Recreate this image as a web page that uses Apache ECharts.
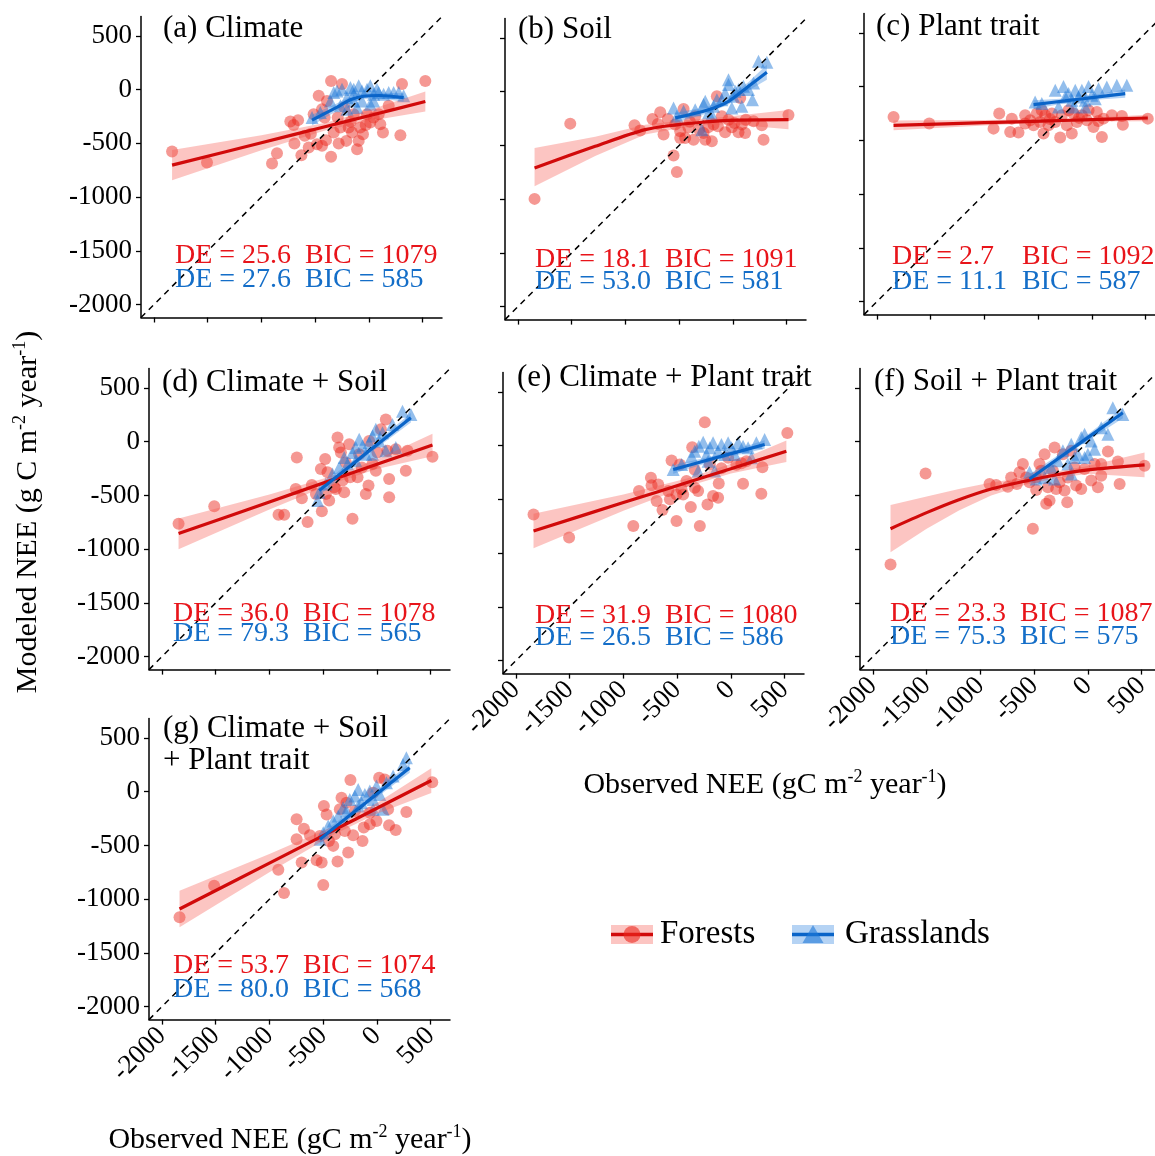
<!DOCTYPE html>
<html>
<head>
<meta charset="utf-8">
<script src="https://cdn.jsdelivr.net/npm/echarts@6/dist/echarts.min.js"></script>
<style>
  html, body { margin: 0; padding: 0; background: #fff; }
  #chart { width: 1155px; height: 1156px; }
</style>
</head>
<body>
<div id="chart"></div>
<script>
// shared axis range (observed and modeled), and the ticks shown
const axisMin = -2120;
const axisMax = 680;
const tickValues = [-2000, -1500, -1000, -500, 0, 500];

const panelTitles = ['(a) Climate', '(b) Soil', '(c) Plant trait', '(d) Climate + Soil',
  '(e) Climate + Plant trait', '(f) Soil + Plant trait', '(g) Climate + Soil\n+ Plant trait'];
const forestDE = ['25.6', '18.1', '2.7', '36.0', '31.9', '23.3', '53.7'];
const forestBIC = ['1079', '1091', '1092', '1078', '1080', '1087', '1074'];
const grassDE = ['27.6', '53.0', '11.1', '79.3', '26.5', '75.3', '80.0'];
const grassBIC = ['585', '581', '587', '565', '586', '575', '568'];

// points: [observed, modeled]
// fits: [observed, fit, lower, upper]
const forestA = [[-1831,-576],[-1506,-678],[-901,-687],[-855,-591],[-731,-297],[-659,-284],[-693,-501],[-597,-430],[-628,-610],[-560,-539],[-514,-229],[-436,-182],[-483,-508],[-436,-523],[-399,-470],[-352,81],[-352,-625],[-327,-399],[-250,51],[-290,-260],[-281,-501],[-210,-477],[-188,-353],[-157,-399],[-110,-554],[-95,-477],[-80,-353],[-55,-415],[-17,-229],[13,-306],[44,-260],[91,-229],[106,-322],[131,-399],[184,-151],[308,51],[293,-424],[525,81],[-467,-58],[-390,-105],[-229,-167],[-142,-229],[-412,-260],[-265,-353],[-700,-330],[-540,-410],[-170,-300],[-30,-330]];
const grassA = [[-529,-260],[-452,-213],[-327,-27],[-296,-12],[-250,4],[-203,-74],[-172,20],[-141,-43],[-95,35],[-64,-12],[-17,4],[13,35],[44,-43],[91,-27],[137,-43],[184,-27],[230,-27],[277,-27],[323,-58],[-110,-167],[-64,-105],[13,-136],[-265,-151],[-203,-182],[-141,-105],[44,-105],[-358,-105],[75,4],[-141,4]];
const forestFitA = [[-1831,-703,-843,-563],[-1000,-494,-564,-424],[-400,-343,-378,-308],[0,-243,-293,-193],[525,-111,-204,-18]];
const grassFitA = [[-529,-284,-334,-234],[-300,-165,-200,-130],[-172,-95,-125,-65],[-50,-62,-87,-37],[100,-55,-80,-30],[323,-74,-114,-34]];

const forestB = [[-1845,-997],[-1513,-297],[-915,-312],[-862,-362],[-748,-253],[-698,-300],[-676,-191],[-645,-399],[-605,-253],[-552,-594],[-521,-746],[-490,-368],[-490,-430],[-459,-160],[-444,-430],[-413,-331],[-366,-446],[-351,-229],[-314,-353],[-273,-384],[-257,-446],[-196,-461],[-180,-306],[-149,-43],[-140,-322],[-103,-229],[-72,-377],[-41,-260],[15,-291],[52,-377],[83,-306],[114,-384],[120,-260],[192,-275],[269,-312],[285,-446],[517,-216],[68,-58],[-537,-306],[-400,-280],[-230,-330],[-10,-330]];
const grassB = [[-552,-151],[-521,-229],[-459,-182],[-351,-167],[-273,-120],[-257,-89],[-227,-198],[-180,-136],[-149,-74],[-103,-74],[-72,-12],[-41,112],[-10,-151],[5,-43],[21,4],[52,20],[83,-136],[98,51],[145,20],[182,-74],[192,81],[238,283],[316,274],[-41,66],[-196,-213],[-289,-353]];
const forestFitB = [[-1845,-709,-880,-523],[-1281,-508,-598,-418],[-816,-353,-398,-308],[-506,-306,-341,-271],[-289,-284,-314,-254],[-41,-266,-301,-231],[517,-260,-350,-170]];
const grassFitB = [[-537,-244,-289,-199],[-227,-167,-197,-137],[-41,-89,-119,-59],[145,51,11,91],[316,181,111,251]];

const forestC = [[-1845,-281],[-1513,-343],[-915,-390],[-862,-250],[-760,-421],[-683,-427],[-745,-297],[-621,-266],[-574,-312],[-543,-359],[-512,-250],[-481,-328],[-450,-436],[-434,-266],[-403,-359],[-372,-250],[-341,-328],[-295,-473],[-279,-266],[-233,-359],[-187,-436],[-171,-250],[-140,-328],[-93,-266],[-47,-312],[15,-374],[46,-235],[93,-467],[108,-297],[186,-266],[279,-272],[288,-353],[520,-297],[-621,-343],[-466,-219],[-217,-219],[-31,-219],[-390,-300],[-120,-290],[60,-320]];
const grassC = [[-528,-142],[-466,-157],[-341,-33],[-310,-188],[-264,2],[-217,-64],[-187,-126],[-155,-33],[-124,-95],[-93,-33],[-62,-126],[-31,2],[0,-80],[31,-111],[62,-18],[139,-2],[232,13],[325,13],[-171,-188],[-62,-188],[-248,-95]];
const forestFitC = [[-1845,-359,-404,-314],[-1000,-335,-360,-310],[-400,-318,-333,-303],[0,-306,-324,-288],[520,-291,-321,-261]];
const grassFitC = [[-543,-167,-207,-127],[-250,-132,-154,-110],[0,-101,-123,-79],[310,-64,-102,-26]];

const forestD = [[-1845,-763],[-1513,-600],[-915,-680],[-862,-680],[-745,-147],[-755,-439],[-698,-526],[-645,-747],[-605,-402],[-567,-486],[-521,-255],[-512,-646],[-481,-162],[-475,-486],[-459,-285],[-444,-547],[-397,-424],[-382,-439],[-366,38],[-335,-101],[-320,-362],[-304,-470],[-258,-24],[-249,-331],[-227,-717],[-180,-331],[-165,-116],[-140,-239],[-103,-486],[-78,-408],[-72,7],[-41,-208],[-10,-270],[5,-101],[37,115],[83,207],[98,-85],[114,-347],[114,-516],[176,-70],[269,-270],[285,-85],[517,-141],[-351,-55],[-289,-193]];
const grassD = [[-552,-547],[-537,-470],[-475,-393],[-413,-301],[-351,-239],[-304,-147],[-273,-208],[-227,-101],[-196,-54],[-165,23],[-134,-39],[-103,-116],[-72,-8],[-41,53],[-10,115],[21,7],[52,84],[83,-85],[145,161],[176,-54],[238,284],[316,254],[-41,-116],[-196,-178]];
const forestFitD = [[-1845,-855,-1000,-715],[-1000,-560,-630,-490],[-400,-350,-385,-315],[0,-210,-255,-165],[517,-30,-135,75]];
const grassFitD = [[-537,-455,-500,-410],[-100,-108,-133,-83],[316,223,178,268]];

const forestE = [[-1836,-639],[-1505,-855],[-908,-747],[-855,-422],[-744,-298],[-738,-369],[-676,-360],[-691,-515],[-636,-598],[-583,-422],[-567,-499],[-552,-137],[-506,-700],[-506,-453],[-475,-175],[-459,-406],[-444,-453],[-413,-329],[-373,-570],[-360,-14],[-336,-391],[-305,-422],[-289,-747],[-243,218],[-218,-546],[-196,-175],[-166,-468],[-119,-484],[-113,-351],[-88,-209],[-26,-113],[51,-178],[113,-354],[144,-144],[283,-447],[293,-200],[525,119],[98,-163],[-336,-224]];
const grassE = [[-537,-221],[-459,-175],[-366,-97],[-336,-51],[-298,-4],[-258,33],[-227,-82],[-196,-20],[-166,27],[-150,-236],[-119,-51],[-88,11],[-57,-82],[-26,27],[5,-20],[36,-82],[67,27],[113,-4],[160,-20],[191,-113],[237,27],[314,58],[-305,-236],[-212,-144]];
const forestFitE = [[-1836,-793,-953,-633],[-1000,-529,-604,-454],[-400,-340,-378,-302],[0,-214,-259,-169],[516,-51,-151,49]];
const grassFitE = [[-537,-221,-261,-181],[-100,-102,-124,-80],[314,11,-29,51]];

const forestF = [[-1836,-1142],[-1510,-295],[-915,-393],[-853,-402],[-745,-418],[-714,-332],[-661,-393],[-636,-285],[-605,-208],[-574,-332],[-543,-378],[-512,-809],[-481,-449],[-450,-208],[-434,-270],[-403,-116],[-388,-578],[-372,-424],[-357,-547],[-326,-270],[-310,-54],[-295,-439],[-264,-378],[-233,-116],[-217,-455],[-192,-563],[-186,-332],[-155,-85],[-124,-239],[-109,-408],[-62,-439],[-31,-255],[31,-362],[62,-208],[93,-424],[124,-316],[186,-91],[279,-184],[295,-393],[527,-224],[124,-208],[-481,-332]];
const grassF = [[-543,-285],[-481,-347],[-403,-332],[-341,-239],[-310,-347],[-279,-178],[-233,-85],[-186,-208],[-155,-24],[-124,-147],[-93,-116],[-62,38],[-31,69],[0,-116],[31,7],[62,-70],[124,130],[186,69],[232,315],[325,254],[-155,-301],[-31,-147]];
const forestFitF = [[-1836,-809,-1029,-589],[-1500,-660,-810,-510],[-1200,-540,-640,-440],[-900,-440,-500,-380],[-600,-370,-405,-335],[-300,-310,-340,-280],[0,-262,-297,-227],[527,-215,-330,-100]];
const grassFitF = [[-543,-347,-392,-302],[-100,-32,-57,-7],[325,269,219,319]];

const forestG = [[-1836,-1169],[-1514,-875],[-917,-727],[-864,-943],[-747,-257],[-747,-442],[-700,-659],[-679,-344],[-623,-405],[-561,-637],[-530,-412],[-514,-659],[-499,-869],[-493,-133],[-468,-211],[-446,-458],[-406,-504],[-391,-396],[-366,-649],[-345,-164],[-329,-56],[-298,-365],[-267,-566],[-246,108],[-221,-405],[-205,-180],[-134,-458],[-122,-334],[-66,-303],[-35,-10],[-4,-273],[21,129],[73,114],[104,-164],[113,-313],[175,-356],[274,-189],[515,89],[-283,-103],[-66,-195]];
const grassG = [[-530,-442],[-499,-381],[-453,-319],[-406,-273],[-360,-226],[-314,-149],[-283,-180],[-252,-72],[-205,-41],[-174,21],[-143,-103],[-112,-25],[-66,6],[-35,-72],[-4,52],[27,-25],[58,-164],[89,83],[151,145],[243,253],[274,315],[-35,-164],[-174,-133]];
const forestFitG = [[-1836,-1091,-1261,-921],[-1000,-664,-749,-579],[-400,-358,-398,-318],[0,-154,-204,-104],[506,104,-11,219]];
const grassFitG = [[-530,-442,-487,-397],[-100,-100,-125,-75],[305,222,177,267]];

const forests = [forestA, forestB, forestC, forestD, forestE, forestF, forestG];
const grasses = [grassA, grassB, grassC, grassD, grassE, grassF, grassG];
const forestFits = [forestFitA, forestFitB, forestFitC, forestFitD, forestFitE, forestFitF, forestFitG];
const grassFits = [grassFitA, grassFitB, grassFitC, grassFitD, grassFitE, grassFitF, grassFitG];

// panel placement on the page
const layout = [
  { left: 141, top: 16.5, showX: false, showY: true, tx: 163, ty: 29, sx: 175, ry: 256, by: 280 },
  { left: 505, top: 18.6, showX: false, showY: false, tx: 518, ty: 30, sx: 535, ry: 260, by: 282 },
  { left: 864, top: 13.6, showX: false, showY: false, tx: 876, ty: 27, sx: 892, ry: 257, by: 282 },
  { left: 149, top: 368.6, showX: false, showY: true, tx: 162, ty: 383, sx: 173, ry: 613.5, by: 634 },
  { left: 503, top: 372.6, showX: true, showY: false, tx: 517, ty: 378, sx: 535, ry: 615.5, by: 637.5 },
  { left: 860, top: 368.6, showX: true, showY: false, tx: 874, ty: 382, sx: 890, ry: 613.5, by: 637 },
  { left: 149, top: 718.6, showX: true, showY: true, tx: 163, ty: 745, sx: 173, ry: 966, by: 989.5 }
];
const panelSize = 301;

const serif = '"Liberation Serif", "Times New Roman", serif';
const red = '#d10a0a';
const blue = '#0a64c8';
const redText = '#e8141a';
const blueText = '#146ec8';
const redPoint = 'rgba(235,40,30,0.6)';
const bluePoint = 'rgba(30,120,215,0.6)';
const redBand = 'rgba(245,90,80,0.35)';
const blueBand = 'rgba(60,140,225,0.38)';

const grids = [], xAxes = [], yAxes = [], series = [], graphics = [];

function axisBase(i, showLabel, isX) {
  return {
    gridIndex: i, type: 'value', min: axisMin, max: axisMax,
    axisLine: { show: true, onZero: false, lineStyle: { color: '#000', width: 1.5 } },
    axisTick: { show: true, length: 5, customValues: tickValues, lineStyle: { color: '#000', width: 1.3 } },
    axisLabel: {
      show: showLabel, customValues: tickValues, color: '#000', fontFamily: serif, fontSize: 27,
      rotate: isX ? 45 : 0, margin: isX ? 12 : 9,
      formatter: function (v) { return String(v); }
    },
    splitLine: { show: false }
  };
}

function bandSeries(i, rows, color) {
  return {
    type: 'custom', xAxisIndex: i, yAxisIndex: i, silent: true, z: 3,
    data: rows, encode: { x: 0, y: [2, 3] },
    renderItem: function (params, api) {
      if (params.dataIndex !== 0) return null;
      const pts = [];
      rows.forEach(function (r) { pts.push(api.coord([r[0], r[3]])); });
      rows.slice().reverse().forEach(function (r) { pts.push(api.coord([r[0], r[2]])); });
      return { type: 'polygon', shape: { points: pts }, style: { fill: color } };
    }
  };
}

layout.forEach(function (p, i) {
  grids.push({ left: p.left, top: p.top, width: panelSize, height: panelSize, containLabel: false, outerBoundsMode: 'none' });
  xAxes.push(axisBase(i, p.showX, true));
  yAxes.push(axisBase(i, p.showY, false));

  series.push({
    type: 'scatter', xAxisIndex: i, yAxisIndex: i, data: forests[i], symbol: 'circle', symbolSize: 12,
    itemStyle: { color: redPoint }, z: 2, silent: true
  });
  series.push({
    type: 'scatter', xAxisIndex: i, yAxisIndex: i, data: grasses[i], symbol: 'triangle', symbolSize: 13,
    itemStyle: { color: bluePoint }, z: 2, silent: true
  });
  series.push({
    type: 'line', xAxisIndex: i, yAxisIndex: i, data: [[axisMin, axisMin], [axisMax, axisMax]],
    symbol: 'none', lineStyle: { color: '#000', width: 1.5, type: [6, 5] }, z: 3, silent: true
  });
  series.push(bandSeries(i, forestFits[i], redBand));
  series.push(bandSeries(i, grassFits[i], blueBand));
  series.push({
    type: 'line', xAxisIndex: i, yAxisIndex: i, data: forestFits[i].map(function (r) { return [r[0], r[1]]; }),
    symbol: 'none', smooth: 0.3, lineStyle: { color: red, width: 3.2 }, z: 4, silent: true
  });
  series.push({
    type: 'line', xAxisIndex: i, yAxisIndex: i, data: grassFits[i].map(function (r) { return [r[0], r[1]]; }),
    symbol: 'none', smooth: 0.3, lineStyle: { color: blue, width: 3.2 }, z: 4, silent: true
  });

  graphics.push({
    type: 'text', x: p.tx, y: p.ty, z: 10,
    style: { text: panelTitles[i], fontFamily: serif, fontSize: 31, lineHeight: 32, fill: '#000', align: 'left', verticalAlign: 'middle' }
  });
  const statStyle = { fontFamily: serif, fontSize: 28, align: 'left', verticalAlign: 'middle' };
  graphics.push({ type: 'text', x: p.sx, y: p.ry, z: 10, style: Object.assign({ text: 'DE = ' + forestDE[i], fill: redText }, statStyle) });
  graphics.push({ type: 'text', x: p.sx + 130, y: p.ry, z: 10, style: Object.assign({ text: 'BIC = ' + forestBIC[i], fill: redText }, statStyle) });
  graphics.push({ type: 'text', x: p.sx, y: p.by, z: 10, style: Object.assign({ text: 'DE = ' + grassDE[i], fill: blueText }, statStyle) });
  graphics.push({ type: 'text', x: p.sx + 130, y: p.by, z: 10, style: Object.assign({ text: 'BIC = ' + grassBIC[i], fill: blueText }, statStyle) });
});

// axis titles with superscripts
const titleRich = {
  t: { fontFamily: serif, fontSize: 30, lineHeight: 34, fill: '#000' },
  s: { fontFamily: serif, fontSize: 18, lineHeight: 14, verticalAlign: 'top', fill: '#000' }
};
graphics.push({
  type: 'text', x: 28, y: 512, rotation: Math.PI / 2,
  style: { text: '{t|Modeled NEE (g C m}{s|-2}{t| year}{s|-1}{t|)}', rich: titleRich, align: 'center', verticalAlign: 'middle' }
});
graphics.push({
  type: 'text', x: 765, y: 785,
  style: { text: '{t|Observed NEE (gC m}{s|-2}{t| year}{s|-1}{t|)}', rich: titleRich, align: 'center', verticalAlign: 'middle' }
});
graphics.push({
  type: 'text', x: 290, y: 1140,
  style: { text: '{t|Observed NEE (gC m}{s|-2}{t| year}{s|-1}{t|)}', rich: titleRich, align: 'center', verticalAlign: 'middle' }
});

// legend keys
graphics.push({ type: 'rect', shape: { x: 611, y: 925, width: 42, height: 19 }, style: { fill: redBand } });
graphics.push({ type: 'line', shape: { x1: 611, y1: 934.5, x2: 653, y2: 934.5 }, style: { stroke: red, lineWidth: 3.5 } });
graphics.push({ type: 'circle', shape: { cx: 632, cy: 934.5, r: 8.5 }, style: { fill: redPoint } });
graphics.push({ type: 'text', x: 660, y: 934, style: { text: 'Forests', fontFamily: serif, fontSize: 33, fill: '#000', verticalAlign: 'middle' } });
graphics.push({ type: 'rect', shape: { x: 792, y: 925, width: 42, height: 19 }, style: { fill: blueBand } });
graphics.push({ type: 'line', shape: { x1: 792, y1: 934.5, x2: 834, y2: 934.5 }, style: { stroke: blue, lineWidth: 3.5 } });
graphics.push({ type: 'polygon', shape: { points: [[813, 925], [802.5, 943], [823.5, 943]] }, style: { fill: bluePoint } });
graphics.push({ type: 'text', x: 845, y: 934, style: { text: 'Grasslands', fontFamily: serif, fontSize: 33, fill: '#000', verticalAlign: 'middle' } });

const myChart = echarts.init(document.getElementById('chart'));
myChart.setOption({
  animation: false,
  backgroundColor: '#fff',
  textStyle: { fontFamily: serif },
  grid: grids,
  xAxis: xAxes,
  yAxis: yAxes,
  series: series,
  graphic: { elements: graphics }
});
</script>
</body>
</html>
